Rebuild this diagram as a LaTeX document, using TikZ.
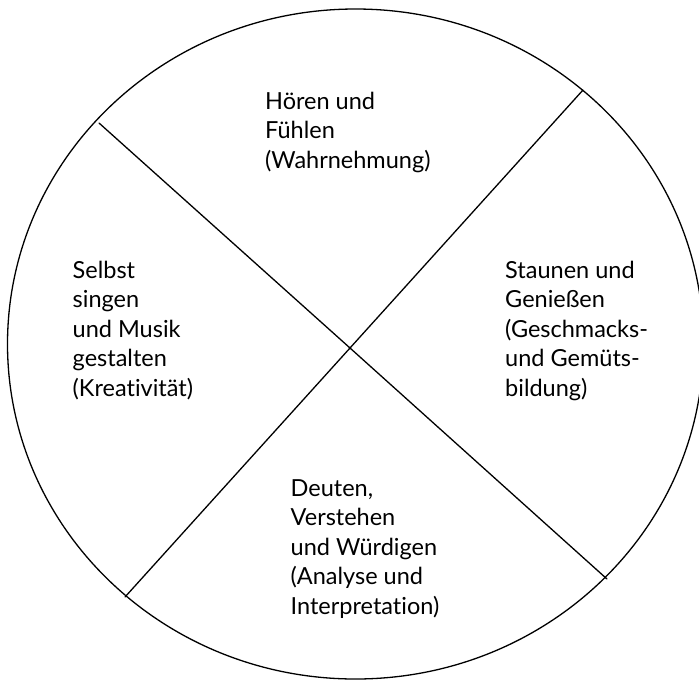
\documentclass[tikz,border=0pt]{standalone}
\usepackage{fontspec}
\setmainfont[Ligatures=NoCommon]{Lato}
\begin{document}
\begin{tikzpicture}[x=1pt,y=-1pt,
  divider/.style={line width=1.3pt, line cap=round},
  rim/.style={line width=1.3pt},
  label/.style={anchor=north west, inner sep=0pt, align=left,
    font=\fontsize{23.5}{29.5}\selectfont}]
\useasboundingbox (0,0) rectangle (699,681);
\clip (0,0) rectangle (699,681);
\draw[rim] (355.5,344) ellipse [x radius=348, y radius=335];
\coordinate (c) at (350,348);
\coordinate (ul) at (99,123);
\coordinate (lr) at (607,579);
\coordinate (ur) at (583,90);
\coordinate (ll) at (125,597);
\draw[divider] (ul) -- (c) -- (lr);
\draw[divider] (ur) -- (c) -- (ll);
\def\fs{\rule{0pt}{22pt}}
\node[label] (top) at (265,{109-22}) {\fs Hören und\\Fühlen\\(Wahrnehmung)};
\node[label] (left) at (72.5,{278-22}) {\fs Selbst\\singen\\und Musik\\gestalten\\(Kreativität)};
\node[label] (right) at (505,{278-22}) {\fs Staunen und\\Genießen\\(Geschmacks-\\und Gemüts-\\bildung)};
\node[label] (bottom) at (290.5,{496-22}) {\fs Deuten,\\Verstehen\\und Würdigen\\(Analyse und\\Interpretation)};
\end{tikzpicture}
\end{document}
